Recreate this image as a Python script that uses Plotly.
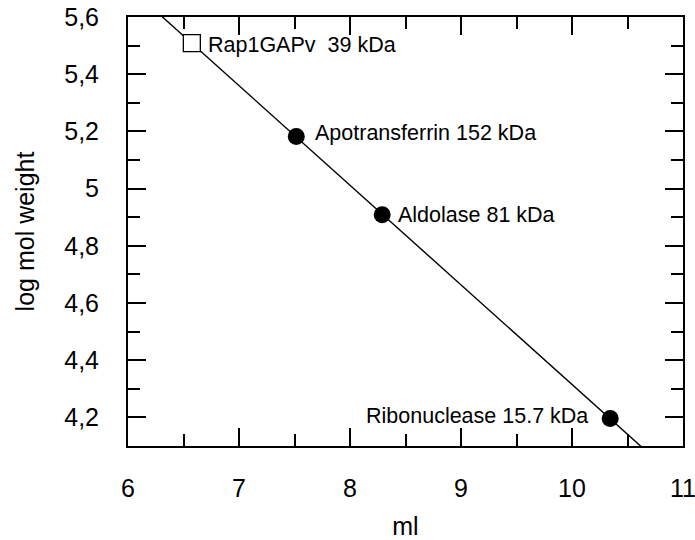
import numpy as np
import plotly.graph_objects as go

# Calibration standards: elution volume (ml) and molecular mass (kDa)
std_names = ["Apotransferrin", "Aldolase", "Ribonuclease"]
std_ml = [7.516, 8.29, 10.344]
std_kda = [152, 81, 15.7]
std_logmw = [float(np.log10(k * 1000)) for k in std_kda]

# Sample protein: elution volume and apparent log mass
sample_name = "Rap1GAPv"
sample_kda = 39
sample_ml = [6.575]
sample_logmw = [5.509]

# Least-squares calibration line through the standards
slope, intercept = np.polyfit(std_ml, std_logmw, 1)
line_x = np.array([6.0, 11.0])
line_y = intercept + slope * line_x

FONT = "Arial, Liberation Sans, Helvetica, sans-serif"

fig = go.Figure()
fig.add_trace(go.Scatter(x=line_x, y=line_y, mode="lines",
                         line=dict(color="black", width=1.4),
                         hoverinfo="skip", showlegend=False))
fig.add_trace(go.Scatter(x=std_ml, y=std_logmw, mode="markers",
                         marker=dict(symbol="circle", size=17, color="black"),
                         showlegend=False))
fig.add_trace(go.Scatter(x=sample_ml, y=sample_logmw, mode="markers",
                         marker=dict(symbol="square", size=17, color="white",
                                     line=dict(color="black", width=1.3)),
                         showlegend=False))

ann_font = dict(family=FONT, size=21.5, color="black")
labels = [
    (sample_ml[0], sample_logmw[0], f"{sample_name}\u00a0\u00a0{sample_kda} kDa", "left", 14, -2),
    (std_ml[0], std_logmw[0], f"{std_names[0]} {std_kda[0]} kDa", "left", 17, 4),
    (std_ml[1], std_logmw[1], f"{std_names[1]} {std_kda[1]} kDa", "left", 14, 0),
    (std_ml[2], std_logmw[2], f"{std_names[2]} {std_kda[2]} kDa", "right", -20, 3),
]
for x, y, txt, anchor, dx, dy in labels:
    fig.add_annotation(x=x, y=y, text=txt, showarrow=False, xanchor=anchor,
                       yanchor="middle", xshift=dx, yshift=dy, font=ann_font)

axis_common = dict(
    automargin=False, ticklabeloverflow="allow",
    showgrid=False, zeroline=False, showline=True, linecolor="black", linewidth=2,
    mirror="allticks", ticks="inside", ticklen=18, tickwidth=1.5, tickcolor="black",
    tickfont=dict(family=FONT, size=25, color="black"),
)
fig.update_xaxes(range=[6, 11], tick0=0, dtick=1,
                 minor=dict(dtick=0.5, ticks="inside", ticklen=12, tickwidth=1.5,
                            tickcolor="black"),
                 ticklabelstandoff=19,
                 title=dict(text="ml", font=dict(family=FONT, size=25, color="black"),
                            standoff=36),
                 **axis_common)
fig.update_yaxes(range=[4.1, 5.6], tick0=0, dtick=0.2,
                 minor=dict(dtick=0.1, ticks="inside", ticklen=12, tickwidth=1.5,
                            tickcolor="black"),
                 ticklabelstandoff=22,
                 title=dict(text="log mol weight",
                            font=dict(family=FONT, size=25, color="black"),
                            standoff=22),
                 **axis_common)

fig.update_layout(
    width=695, height=540,
    margin=dict(l=128, r=12, t=17, b=94),
    paper_bgcolor="white", plot_bgcolor="white",
    separators=", ",
    font=dict(family=FONT, color="black"),
)

fig.write_html("out.html")
